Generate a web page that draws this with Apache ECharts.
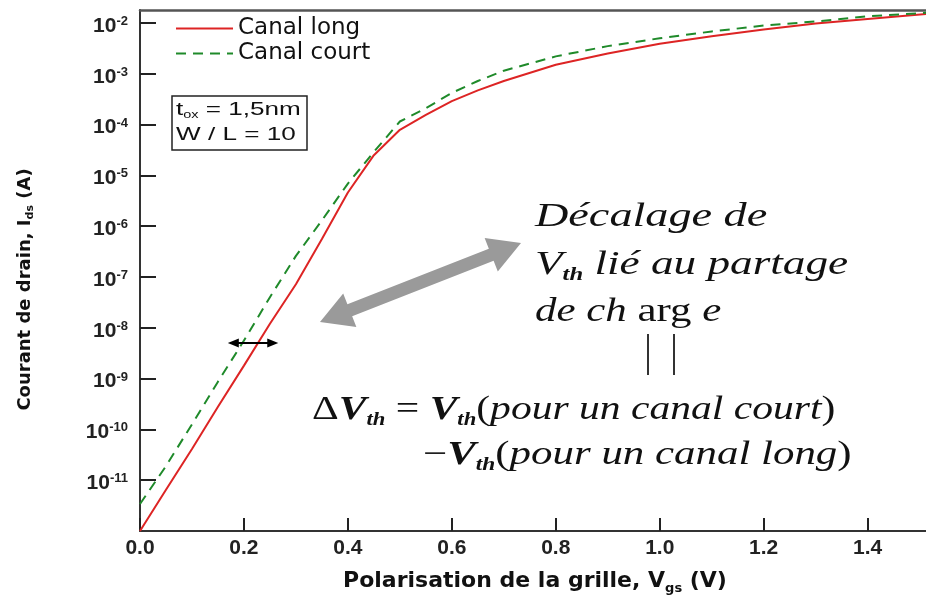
<!DOCTYPE html>
<html>
<head>
<meta charset="utf-8">
<script src="https://cdn.jsdelivr.net/npm/echarts@6/dist/echarts.min.js"></script>
<style>
  html, body { margin: 0; padding: 0; background: #ffffff; }
  #chart { width: 926px; height: 596px; }
</style>
</head>
<body>
<div id="chart"></div>
<script>
// Gate bias (V) and drain current (A) for the long-channel device
const vgsLong = [0.00, 0.05, 0.10, 0.15, 0.20, 0.25, 0.30, 0.35, 0.40, 0.45, 0.50, 0.55, 0.60, 0.65, 0.70, 0.80, 0.90, 1.00, 1.10, 1.20, 1.30, 1.40, 1.52];
const idsLong = [1.0e-12, 6.5e-12, 4.1e-11, 2.8e-10, 1.8e-9, 1.2e-8, 7.2e-8, 5.6e-7, 4.6e-6, 2.5e-5, 7.9e-5, 1.55e-4, 2.9e-4, 4.7e-4, 7.2e-4, 1.5e-3, 2.5e-3, 3.9e-3, 5.5e-3, 7.4e-3, 9.8e-3, 1.2e-2, 1.52e-2];

// Gate bias (V) and drain current (A) for the short-channel device
const vgsCourt = [0.00, 0.05, 0.10, 0.15, 0.20, 0.25, 0.30, 0.35, 0.40, 0.45, 0.50, 0.55, 0.60, 0.65, 0.70, 0.80, 0.90, 1.00, 1.10, 1.20, 1.30, 1.40, 1.52];
const idsCourt = [3.4e-12, 1.9e-11, 1.26e-10, 8.7e-10, 5.6e-9, 4.0e-8, 2.6e-7, 1.3e-6, 6.9e-6, 2.9e-5, 1.15e-4, 2.1e-4, 4.2e-4, 7.2e-4, 1.15e-3, 2.2e-3, 3.5e-3, 5.0e-3, 6.8e-3, 8.9e-3, 1.07e-2, 1.35e-2, 1.6e-2];

const seriesNames = ['Canal long', 'Canal court'];

// Threshold-shift marker: current level and the two gate voltages it spans
const shiftLevel = 5e-9;
const shiftFrom = 0.169;
const shiftTo = 0.266;

const SANS = 'Liberation Sans, Arial, sans-serif';
const WIDE = 'DejaVu Sans, Verdana, sans-serif';
const SERIF = 'Liberation Serif, Times New Roman, serif';

const chart = echarts.init(document.getElementById('chart'));

function pairs(xs, ys) { return xs.map((x, i) => [x, ys[i]]); }

const option = {
  animation: false,
  backgroundColor: '#ffffff',
  grid: { left: 140, right: -4, top: 10, bottom: 65, show: false, outerBoundsMode: 'none', containLabel: false },
  legend: {
    orient: 'vertical',
    left: 175,
    top: 17,
    padding: 0,
    itemWidth: 57,
    itemHeight: 14,
    itemGap: 2,
    itemStyle: { opacity: 0 },
    textStyle: { fontFamily: WIDE, fontSize: 23, color: '#111' },
    data: seriesNames
  },
  xAxis: [{
    type: 'value',
    min: 0,
    max: 1.52,
    interval: 0.2,
    name: '{n|Polarisation de la grille, V}{s|gs}{n| (V)}',
    nameLocation: 'middle',
    nameGap: 37,
    nameTextStyle: {
      rich: {
        n: { fontFamily: WIDE, fontSize: 22, fontWeight: 'bold', color: '#111', lineHeight: 27 },
        s: { fontFamily: WIDE, fontSize: 13, fontWeight: 'bold', color: '#111', lineHeight: 12, verticalAlign: 'bottom' }
      }
    },
    axisLine: { show: true, lineStyle: { color: '#333', width: 2 } },
    axisTick: { show: true, inside: true, length: 13, lineStyle: { color: '#222', width: 2 } },
    axisLabel: {
      formatter: v => v.toFixed(1),
      fontFamily: SANS, fontSize: 21, fontWeight: 'bold', color: '#222',
      margin: 7, showMaxLabel: false
    },
    splitLine: { show: false }
  }, {
    type: 'value',
    position: 'top',
    min: 0,
    max: 1.52,
    axisLine: { show: true, lineStyle: { color: '#555', width: 2.5 } },
    axisTick: { show: false },
    axisLabel: { show: false },
    splitLine: { show: false }
  }],
  yAxis: {
    type: 'log',
    min: 1e-12,
    max: 0.018,
    interval: 1,
    splitNumber: 10,
    name: '{n|Courant de drain, I}{s|ds}{n| (A)}',
    nameLocation: 'middle',
    nameRotate: 90,
    nameGap: 104,
    nameTextStyle: {
      padding: [0, 38, 0, 0],
      rich: {
        n: { fontFamily: WIDE, fontSize: 18, fontWeight: 'bold', color: '#111', lineHeight: 22 },
        s: { fontFamily: WIDE, fontSize: 11, fontWeight: 'bold', color: '#111', lineHeight: 11, verticalAlign: 'bottom' }
      }
    },
    axisLine: { show: true, lineStyle: { color: '#333', width: 2 } },
    axisTick: { show: true, inside: true, length: 16, lineStyle: { color: '#222', width: 2 } },
    axisLabel: {
      showMinLabel: false,
      showMaxLabel: false,
      margin: 12,
      formatter: v => '{b|10}{s|' + Math.round(Math.log10(v)) + '}',
      rich: {
        b: { fontFamily: SANS, fontSize: 21, fontWeight: 'bold', color: '#222', lineHeight: 28, padding: [6, 0, 0, 0] },
        s: { fontFamily: SANS, fontSize: 13, fontWeight: 'bold', color: '#222', lineHeight: 15, padding: [6, 0, 0, 0], verticalAlign: 'top' }
      }
    },
    splitLine: { show: false }
  },
  series: [{
    name: seriesNames[0],
    type: 'line',
    xAxisIndex: 0,
    data: pairs(vgsLong, idsLong),
    symbol: 'none',
    lineStyle: { color: '#dd2424', width: 2 },
    itemStyle: { color: '#dd2424' },
    z: 3
  }, {
    name: seriesNames[1],
    type: 'line',
    xAxisIndex: 0,
    data: pairs(vgsCourt, idsCourt),
    symbol: 'none',
    lineStyle: { color: '#1f8a2a', width: 2, type: [10, 7] },
    itemStyle: { color: '#1f8a2a' },
    z: 4
  }]
};

chart.setOption(option);

// Build a double-headed arrow outline between two pixel points
function doubleArrow(p0, p1, shaft, headW, headL) {
  const dx = p1[0] - p0[0], dy = p1[1] - p0[1];
  const len = Math.hypot(dx, dy);
  const ux = dx / len, uy = dy / len;
  const nx = -uy, ny = ux;
  const at = (t, w) => [p0[0] + ux * t + nx * w, p0[1] + uy * t + ny * w];
  return [
    at(0, 0), at(headL, headW / 2), at(headL, shaft / 2),
    at(len - headL, shaft / 2), at(len - headL, headW / 2), at(len, 0),
    at(len - headL, -headW / 2), at(len - headL, -shaft / 2),
    at(headL, -shaft / 2), at(headL, -headW / 2)
  ];
}

const a = chart.convertToPixel({ xAxisIndex: 0, yAxisIndex: 0 }, [shiftFrom, shiftLevel]);
const b = chart.convertToPixel({ xAxisIndex: 0, yAxisIndex: 0 }, [shiftTo, shiftLevel]);

const serifRich = {
  i: { fontFamily: SERIF, fontStyle: 'italic', fontSize: 33, fill: '#111', lineHeight: 38 },
  u: { fontFamily: SERIF, fontSize: 33, fill: '#111', lineHeight: 38 },
  v: { fontFamily: SERIF, fontStyle: 'italic', fontWeight: 'bold', fontSize: 33, fill: '#111', lineHeight: 38 },
  sub: { fontFamily: SERIF, fontStyle: 'italic', fontWeight: 'bold', fontSize: 18, fill: '#111', lineHeight: 19, verticalAlign: 'bottom' }
};

function serifText(x, y, text, sx) {
  return {
    type: 'text', x: x, y: y, scaleX: sx, z: 10,
    style: { text: text, rich: serifRich, verticalAlign: 'middle', textAlign: 'left', fill: '#111' }
  };
}

chart.setOption({
  graphic: [
    // parameters box
    {
      type: 'rect', shape: { x: 172, y: 96, width: 135, height: 54 },
      style: { fill: '#fff', stroke: '#222', lineWidth: 1.5 }, z: 10
    },
    {
      type: 'text', x: 176, y: 110, scaleX: 1.45, z: 11,
      style: {
        text: '{t|t}{s|ox}{t| = 1,5nm}', verticalAlign: 'middle',
        rich: {
          t: { fontFamily: SANS, fontSize: 18, fill: '#111', lineHeight: 21 },
          s: { fontFamily: SANS, fontSize: 10, fill: '#111', lineHeight: 10, verticalAlign: 'bottom' }
        }
      }
    },
    {
      type: 'text', x: 176, y: 135, scaleX: 1.45, z: 11,
      style: { text: 'W / L = 10', font: '18px ' + SANS, fill: '#111', verticalAlign: 'middle' }
    },
    // gray block arrow towards the subthreshold region
    {
      type: 'polygon', z: 9,
      shape: { points: doubleArrow([320, 322], [521, 243], 13, 36, 32) },
      style: { fill: '#9a9a9a' }
    },
    // small black double arrow marking the threshold shift
    {
      type: 'line', z: 12,
      shape: { x1: a[0] + 8, y1: a[1], x2: b[0] - 8, y2: b[1] },
      style: { stroke: '#000', lineWidth: 2 }
    },
    {
      type: 'polygon', z: 12,
      shape: { points: [[a[0], a[1]], [a[0] + 11, a[1] - 4.5], [a[0] + 11, a[1] + 4.5]] },
      style: { fill: '#000' }
    },
    {
      type: 'polygon', z: 12,
      shape: { points: [[b[0], b[1]], [b[0] - 11, b[1] - 4.5], [b[0] - 11, b[1] + 4.5]] },
      style: { fill: '#000' }
    },
    // annotation text
    serifText(535, 217, '{i|Décalage de}', 1.4),
    serifText(535, 265, '{i|V}{sub|th}{i| lié au partage}', 1.37),
    serifText(535, 312, '{i|de ch}{u| arg}{i| e}', 1.3),
    { type: 'line', z: 10, shape: { x1: 648, y1: 334, x2: 648, y2: 375 }, style: { stroke: '#333', lineWidth: 2 } },
    { type: 'line', z: 10, shape: { x1: 674, y1: 334, x2: 674, y2: 375 }, style: { stroke: '#333', lineWidth: 2 } },
    serifText(312, 410, '{u|Δ}{v|V}{sub|th}{u| = }{v|V}{sub|th}{u|(}{i|pour un canal court}{u|)}', 1.26),
    serifText(423, 455, '{u|−}{v|V}{sub|th}{u|(}{i|pour un canal long}{u|)}', 1.3)
  ]
});
</script>
</body>
</html>
